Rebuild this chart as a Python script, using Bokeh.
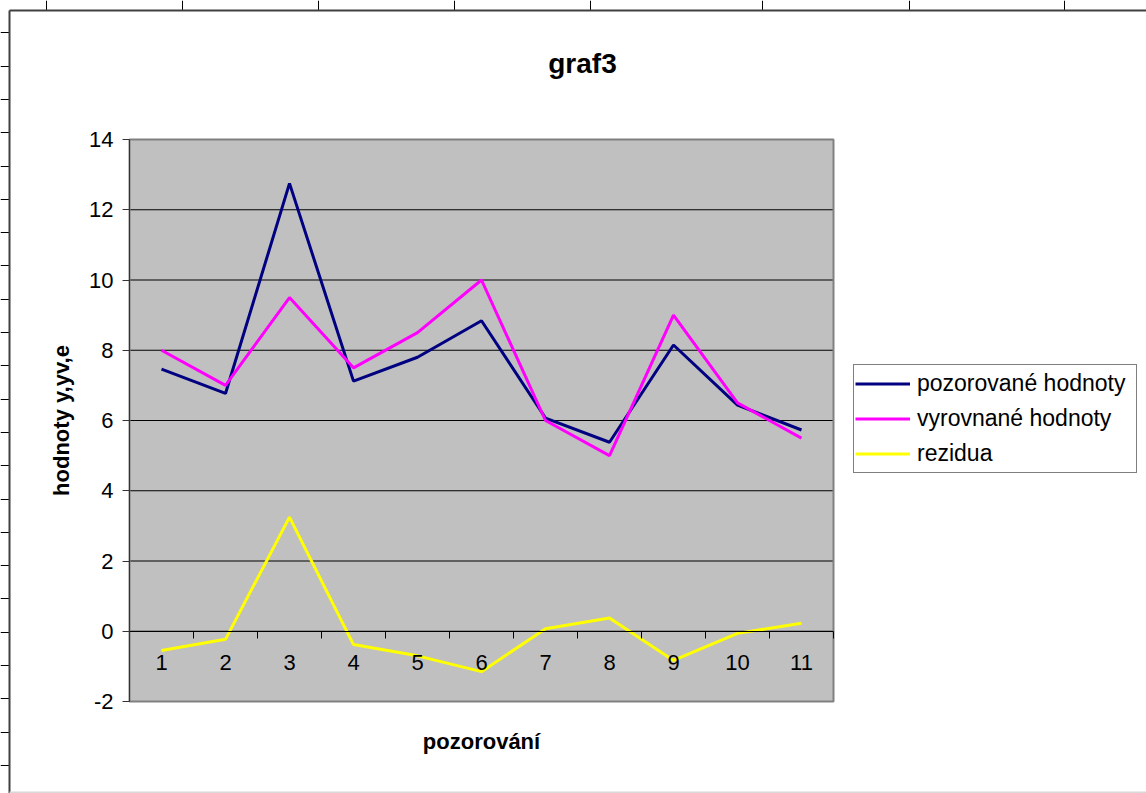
import math
from bokeh.plotting import figure
from bokeh.models import (FixedTicker, Legend, LegendItem, ColumnDataSource, Range1d,
                          LinearAxis, Label)
from bokeh.embed import file_html
from bokeh.resources import INLINE

# ---- data ----
pozorovani = [1, 2, 3, 4, 5, 6, 7, 8, 9, 10, 11]
tick_labels = ["1", "2", "3", "4", "5", "6", "7", "8", "9", "10", "11"]
pozorovane = [7.46, 6.77, 12.75, 7.12, 7.80, 8.84, 6.07, 5.38, 8.15, 6.44, 5.73]
vyrovnane = [8.0, 7.0, 9.5, 7.5, 8.5, 10.0, 6.0, 5.0, 9.0, 6.5, 5.5]
rezidua = [-0.55, -0.23, 3.25, -0.38, -0.70, -1.15, 0.07, 0.38, -0.83, -0.06, 0.23]
y_ticks = [-2, 0, 2, 4, 6, 8, 10, 12, 14]

FONT = "Liberation Sans"

# ---- layout (page pixels) ----
W, H = 1146, 793
PL, PR, PT, PB = 129, 833, 139, 701      # plot-area box
x_lo, x_hi = pozorovani[0] - 0.5, pozorovani[-1] + 0.5
y_lo, y_hi = y_ticks[0], y_ticks[-1]
kx = (PR - PL) / (x_hi - x_lo)
ky = (PB - PT) / (y_hi - y_lo)
xr = Range1d(x_lo - PL / kx, x_hi + (W - PR) / kx)
yr = Range1d(y_lo - (H - PB) / ky, y_hi + PT / ky)


def dx(px):
    return xr.start + px / kx


def dy(py):
    return yr.end - py / ky


# spreadsheet cell borders visible around the chart object (page pixels)
sheet_cols = [46, 182, 318, 454, 590, 762, 909, 1064]
sheet_rows = [32, 66, 99, 132, 166, 199, 232, 265, 299, 332, 365, 399,
              432, 465, 499, 532, 565, 598, 632, 665, 698, 732, 765]
CHART_L, CHART_T = 9, 10

src = ColumnDataSource(dict(x=pozorovani, obs=pozorovane, fit=vyrovnane, res=rezidua))

p = figure(width=W, height=H, output_backend="svg", toolbar_location=None,
           x_range=xr, y_range=yr, x_axis_type=None, y_axis_type=None,
           min_border=0, title=None)
p.background_fill_color = "white"
p.border_fill_color = "white"
p.outline_line_color = None
p.xgrid.visible = False
p.ygrid.visible = False

# spreadsheet lines and chart-object border
p.segment(x0=[dx(c) for c in sheet_cols], x1=[dx(c) for c in sheet_cols],
          y0=[dy(0)] * len(sheet_cols), y1=[dy(CHART_T)] * len(sheet_cols),
          line_color="black", line_width=1)
p.segment(x0=[dx(0)] * len(sheet_rows), x1=[dx(CHART_L)] * len(sheet_rows),
          y0=[dy(r) for r in sheet_rows], y1=[dy(r) for r in sheet_rows],
          line_color="black", line_width=1)
p.segment(x0=[dx(CHART_L), dx(CHART_L)], x1=[dx(W), dx(CHART_L)],
          y0=[dy(CHART_T), dy(CHART_T)], y1=[dy(CHART_T), dy(H)],
          line_color="#404040", line_width=2)
p.segment(x0=[dx(CHART_L)], x1=[dx(W)], y0=[dy(H - 1)], y1=[dy(H - 1)],
          line_color="#D8D8D8", line_width=2)

# plot area
p.quad(left=[x_lo], right=[x_hi], bottom=[y_lo], top=[y_hi],
       fill_color="#C0C0C0", line_color=None)
p.segment(x0=[x_lo] * len(y_ticks), x1=[x_hi] * len(y_ticks), y0=y_ticks, y1=y_ticks,
          line_color="black", line_width=1)
p.quad(left=[x_lo], right=[x_hi], bottom=[y_lo], top=[y_hi],
       fill_color=None, line_color="#808080", line_width=2)

# y axis
ya = LinearAxis(fixed_location=x_lo, bounds=(y_lo, y_hi))
ya.ticker = FixedTicker(ticks=y_ticks)
ya.major_label_overrides = {t: str(t) for t in y_ticks}
ya.axis_line_color = "#333333"
ya.major_tick_line_color = "#333333"
ya.major_tick_in = 0
ya.major_tick_out = 7
ya.minor_tick_line_color = None
ya.major_label_standoff = 9
ya.major_label_text_font = FONT
ya.major_label_text_font_size = "22px"
ya.major_label_text_color = "black"
p.add_layout(ya, "left")

# x axis at y = 0: tick marks between categories
bounds_ticks = [x_lo] + [c + 0.5 for c in pozorovani]
xa = LinearAxis(fixed_location=0, bounds=(x_lo, x_hi))
xa.ticker = FixedTicker(ticks=bounds_ticks)
xa.axis_line_color = "black"
xa.major_tick_line_color = "black"
xa.major_tick_in = 0
xa.major_tick_out = 7
xa.minor_tick_line_color = None
xa.major_label_text_color = None
p.add_layout(xa, "below")

# x axis category labels
xl = LinearAxis(fixed_location=0)
xl.ticker = FixedTicker(ticks=pozorovani)
xl.major_label_overrides = {c: l for c, l in zip(pozorovani, tick_labels)}
xl.axis_line_color = None
xl.major_tick_line_color = None
xl.minor_tick_line_color = None
xl.major_tick_in = 0
xl.major_tick_out = 0
xl.major_label_standoff = 24
xl.major_label_text_font = FONT
xl.major_label_text_font_size = "22px"
xl.major_label_text_color = "black"
p.add_layout(xl, "below")

# series
r1 = p.line("x", "obs", source=src, line_color="#000080", line_width=3)
r2 = p.line("x", "fit", source=src, line_color="#FF00FF", line_width=3)
r3 = p.line("x", "res", source=src, line_color="#FFFF00", line_width=3)

# texts
p.add_layout(Label(x=582, y=H - 63, x_units="screen", y_units="screen", text="graf3",
                   text_font=FONT, text_font_size="28px", text_font_style="bold",
                   text_color="black", text_align="center", text_baseline="middle"))
p.add_layout(Label(x=61, y=H - (PT + PB) / 2, x_units="screen", y_units="screen",
                   text="hodnoty y,yv,e", angle=math.pi / 2,
                   text_font=FONT, text_font_size="22px", text_font_style="bold",
                   text_color="black", text_align="center", text_baseline="middle"))
p.add_layout(Label(x=(PL + PR) / 2, y=H - 741, x_units="screen", y_units="screen",
                   text="pozorování",
                   text_font=FONT, text_font_size="22px", text_font_style="bold",
                   text_color="black", text_align="center", text_baseline="middle"))

legend = Legend(items=[LegendItem(label="pozorované hodnoty", renderers=[r1]),
                       LegendItem(label="vyrovnané hodnoty", renderers=[r2]),
                       LegendItem(label="rezidua", renderers=[r3])],
                location=(853, H - 473))
legend.label_text_font = FONT
legend.label_text_font_size = "23px"
legend.label_text_color = "black"
legend.label_height = 35
legend.label_width = 218
legend.glyph_height = 35
legend.glyph_width = 55
legend.label_standoff = 7
legend.spacing = 0
legend.padding = 1
legend.margin = 0
legend.border_line_color = "black"
legend.border_line_width = 1
legend.background_fill_color = "white"
legend.background_fill_alpha = 1
p.add_layout(legend, "center")

open("out.html", "w").write(file_html(p, INLINE))
